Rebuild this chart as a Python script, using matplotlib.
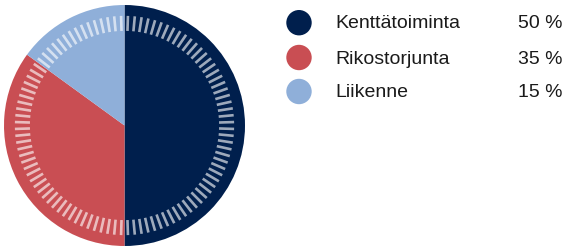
import numpy as np
import matplotlib
matplotlib.use("Agg")
import matplotlib.pyplot as plt

categories = ["Kenttätoiminta", "Rikostorjunta", "Liikenne"]
values = [50, 35, 15]
labels = ["50 %", "35 %", "15 %"]
colors = ["#001f4d", "#c94e53", "#8fafd9"]

W, H = 568, 248
fig = plt.figure(figsize=(W / 100, H / 100), dpi=100)
plt.rcParams['font.family'] = ['Liberation Sans', 'DejaVu Sans']

ax = fig.add_axes([4 / W, 2 / H, 241 / W, 241 / H])
ax.pie(values, colors=colors, startangle=90, counterclock=False, radius=1,
       wedgeprops=dict(linewidth=0))
# decorative tick ring
n = 100
for i in range(n):
    a = np.deg2rad(90 - (i + 0.5) * 360 / n)
    r0, r1 = 0.785, 0.91
    ax.plot([r0 * np.cos(a), r1 * np.cos(a)], [r0 * np.sin(a), r1 * np.sin(a)],
            color="white", alpha=0.62, lw=1.9, solid_capstyle="butt")
ax.set_xlim(-1, 1)
ax.set_ylim(-1, 1)
ax.set_aspect("equal")
ax.axis("off")

# legend
circ_y = [22.7, 57.5, 91.5]
base_y = [28.3, 63.8, 97.3]
lax = fig.add_axes([0, 0, 1, 1])
lax.set_xlim(0, W)
lax.set_ylim(H, 0)
lax.axis("off")
for i, (c, lab, pct) in enumerate(zip(colors, categories, labels)):
    lax.add_patch(plt.Circle((299, circ_y[i]), 12.7, color=c, lw=0))
    lax.text(335, base_y[i], lab, fontsize=14, color="#1a1a1a", va="baseline", ha="left")
    lax.text(562, base_y[i], pct, fontsize=14, color="#1a1a1a", va="baseline", ha="right")

fig.savefig("out.png", dpi=100)
